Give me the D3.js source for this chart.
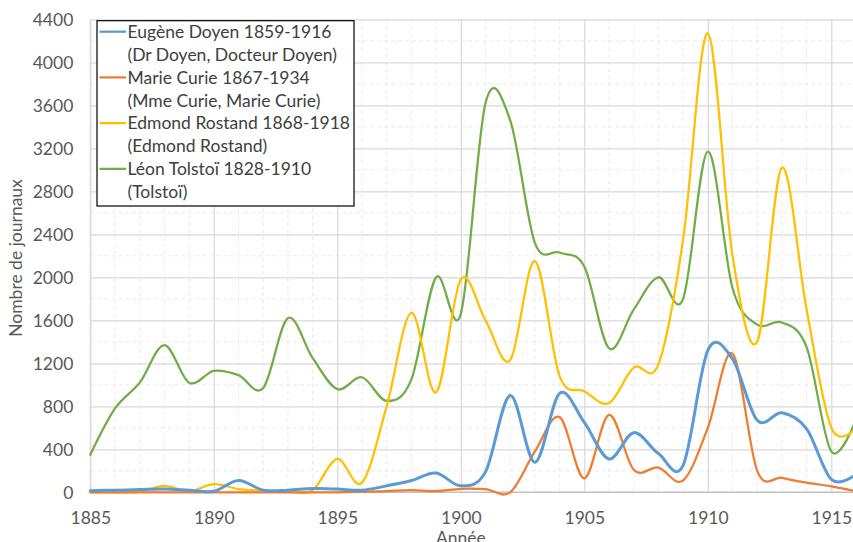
<!DOCTYPE html>
<html>
<head>
<meta charset="utf-8">
<script src="https://cdn.jsdelivr.net/npm/d3@7"></script>
<style>
  html, body { margin: 0; padding: 0; background: #fff; }
  svg { display: block; }
  text { font-family: Lato, "Open Sans", sans-serif; }
</style>
</head>
<body>
<svg id="chart" width="853" height="542"></svg>
<script>
// Years on the horizontal axis
const years = d3.range(1885, 1917);

// Number of newspapers mentioning each person, per year
const doyen = [15, 20, 25, 30, 20, 10, 110, 20, 20, 35, 30, 20, 60, 110, 180, 60,
  190, 900, 280, 920, 650, 310, 555, 360, 250, 1320, 1240, 670, 740, 590, 120, 165];
const curie = [0, 0, 0, 0, 0, 0, 0, 0, 0, 0, 0, 5, 10, 20, 10, 33,
  30, 0, 380, 700, 130, 720, 210, 230, 110, 600, 1290, 200, 135, 90, 55, 10];
const rostand = [0, 0, 5, 60, 10, 75, 30, 15, 5, 20, 310, 90, 800, 1670, 930, 1980,
  1600, 1230, 2150, 1080, 940, 830, 1160, 1190, 2350, 4270, 2200, 1400, 3020, 1700, 600, 600];
const tolstoi = [350, 780, 1020, 1370, 1020, 1130, 1090, 970, 1620, 1250, 960, 1070, 850, 1050, 2000, 1660,
  3620, 3460, 2320, 2230, 2100, 1340, 1700, 2000, 1800, 3170, 1900, 1560, 1580, 1350, 380, 680];

const seriesNames = [
  ["Eugène Doyen 1859-1916", "(Dr Doyen, Docteur Doyen)"],
  ["Marie Curie 1867-1934", "(Mme Curie, Marie Curie)"],
  ["Edmond Rostand 1868-1918", "(Edmond Rostand)"],
  ["Léon Tolstoï 1828-1910", "(Tolstoï)"]
];
const seriesValues = [doyen, curie, rostand, tolstoi];
const seriesColors = ["#5B9BD5", "#ED7D31", "#FFC000", "#70AD47"];
const seriesWidths = [3, 2.25, 2.25, 2.25];

const xTicks = [1885, 1890, 1895, 1900, 1905, 1910, 1915];
const yTicks = d3.range(0, 4401, 400);

const svg = d3.select("#chart");

const x = d3.scaleLinear().domain([1885, 1916]).range([90.3, 856]);
const y = d3.scaleLinear().domain([0, 4400]).range([492.3, 19.3]);

const plot = { left: 90.3, right: 856, top: 19.3, bottom: 492.3 };

// Minor grid (every year, every 200)
const grid = svg.append("g");
grid.selectAll("line.vminor")
  .data(years.filter(yr => yr % 5 !== 0))
  .join("line")
  .attr("x1", d => x(d)).attr("x2", d => x(d))
  .attr("y1", plot.top).attr("y2", plot.bottom)
  .attr("stroke", "#EBEBEB").attr("stroke-width", 1)
  .attr("stroke-dasharray", "4,3");
grid.selectAll("line.hminor")
  .data(d3.range(200, 4400, 400))
  .join("line")
  .attr("x1", plot.left).attr("x2", plot.right)
  .attr("y1", d => y(d)).attr("y2", d => y(d))
  .attr("stroke", "#EBEBEB").attr("stroke-width", 1)
  .attr("stroke-dasharray", "4,3");

// Major grid
svg.append("g")
  .attr("transform", `translate(0,${plot.bottom})`)
  .call(d3.axisBottom(x).tickValues(d3.range(1885, 1917, 5)).tickSize(-(plot.bottom - plot.top)).tickFormat(""))
  .call(g => g.select(".domain").remove())
  .call(g => g.selectAll("line").attr("stroke", "#D9D9D9").attr("stroke-width", 1.2));
svg.append("g")
  .attr("transform", `translate(${plot.left},0)`)
  .call(d3.axisLeft(y).tickValues(yTicks.slice(1)).tickSize(-(plot.right - plot.left)).tickFormat(""))
  .call(g => g.select(".domain").remove())
  .call(g => g.selectAll("line").attr("stroke", "#D9D9D9").attr("stroke-width", 1.2));

// Axis lines
svg.append("line")
  .attr("x1", plot.left).attr("x2", plot.right)
  .attr("y1", plot.bottom).attr("y2", plot.bottom)
  .attr("stroke", "#BFBFBF").attr("stroke-width", 1.5);
svg.append("line")
  .attr("x1", plot.left).attr("x2", plot.left)
  .attr("y1", plot.top).attr("y2", plot.bottom)
  .attr("stroke", "#D9D9D9").attr("stroke-width", 1.2);

// Tick labels
const xAxis = svg.append("g")
  .attr("transform", `translate(0,${plot.bottom})`)
  .call(d3.axisBottom(x).tickValues(xTicks).tickSize(0).tickPadding(0).tickFormat(d3.format("d")));
xAxis.select(".domain").remove();
xAxis.selectAll("text")
  .attr("dy", null).attr("y", 31.7)
  .attr("font-size", 17.5).attr("fill", "#595959")
  .style("font-family", "Lato, 'Open Sans', sans-serif");

const yAxis = svg.append("g")
  .attr("transform", `translate(${plot.left},0)`)
  .call(d3.axisLeft(y).tickValues(yTicks).tickSize(0).tickPadding(17).tickFormat(d3.format("d")));
yAxis.select(".domain").remove();
yAxis.selectAll("text")
  .attr("dy", "0.35em")
  .attr("font-size", 17.5).attr("fill", "#595959")
  .style("font-family", "Lato, 'Open Sans', sans-serif");

// Axis titles
svg.append("text")
  .attr("x", x(1900)).attr("y", 544)
  .attr("text-anchor", "middle")
  .attr("font-size", 17.5).attr("fill", "#595959")
  .text("Année");
svg.append("text")
  .attr("transform", "translate(22,258) rotate(-90)")
  .attr("text-anchor", "middle")
  .attr("font-size", 17.5).attr("fill", "#595959")
  .text("Nombre de journaux");

// Series lines
const line = d3.line()
  .x((d, i) => x(years[i]))
  .y(d => y(d))
  .curve(d3.curveCatmullRom.alpha(0));

const lines = svg.append("g");
[3, 2, 1, 0].forEach(k => {
  lines.append("path")
    .datum(seriesValues[k])
    .attr("d", line)
    .attr("fill", "none")
    .attr("stroke", seriesColors[k])
    .attr("stroke-width", seriesWidths[k])
    .attr("stroke-linejoin", "round")
    .attr("stroke-linecap", "round");
});

// Legend
const legend = svg.append("g");
legend.append("rect")
  .attr("x", 97).attr("y", 20.7)
  .attr("width", 257).attr("height", 185.3)
  .attr("fill", "#fff").attr("stroke", "#000").attr("stroke-width", 1.2);

const rowH = 22.86;
seriesNames.forEach((names, k) => {
  const cy0 = 31.7 + rowH * 2 * k;
  legend.append("line")
    .attr("x1", 99.5).attr("x2", 126)
    .attr("y1", cy0).attr("y2", cy0)
    .attr("stroke", seriesColors[k]).attr("stroke-width", 2.25);
  names.forEach((t, j) => {
    legend.append("text")
      .attr("x", 127.5).attr("y", cy0 + rowH * j)
      .attr("dy", "0.36em")
      .attr("font-size", 17.5).attr("fill", "#404040")
      .text(t);
  });
});
</script>
</body>
</html>
